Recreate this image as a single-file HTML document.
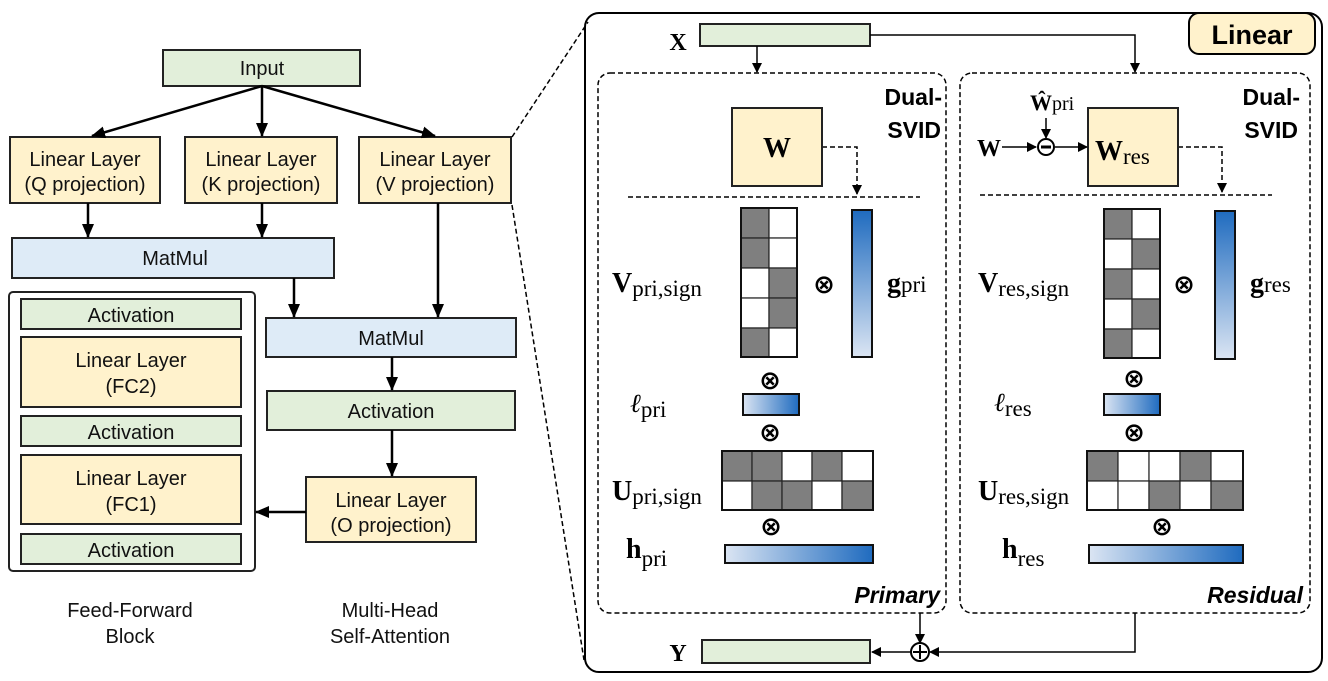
<!DOCTYPE html>
<html><head><meta charset="utf-8"><style>
html,body{margin:0;padding:0;background:#fff;}
svg{display:block;}
.s{font-family:"Liberation Sans",sans-serif;}
.m{font-family:"Liberation Serif","DejaVu Serif",serif;}
</style></head><body>
<svg width="1328" height="681" viewBox="0 0 1328 681" xmlns="http://www.w3.org/2000/svg">
<defs>
<marker id="a" markerWidth="10" markerHeight="10" refX="9" refY="5" orient="auto" markerUnits="userSpaceOnUse"><path d="M0,0 L10,5 L0,10 z" fill="#000"/></marker>
<marker id="b" markerWidth="14" markerHeight="12" refX="13" refY="6" orient="auto" markerUnits="userSpaceOnUse"><path d="M0,0 L14,6 L0,12 z" fill="#000"/></marker>
<linearGradient id="gv" x1="0" y1="0" x2="0" y2="1"><stop offset="0" stop-color="#1f6bbf"/><stop offset="1" stop-color="#dbe5f3"/></linearGradient>
<linearGradient id="gh" x1="0" y1="0" x2="1" y2="0"><stop offset="0" stop-color="#dbe5f3"/><stop offset="1" stop-color="#1f6bbf"/></linearGradient>
</defs>
<g stroke="#222" stroke-width="2">
<rect x="163" y="50" width="197" height="36" fill="#e2efda"/>
<rect x="10" y="137" width="150" height="66" fill="#fff2cc"/>
<rect x="185" y="137" width="152" height="66" fill="#fff2cc"/>
<rect x="359" y="137" width="152" height="66" fill="#fff2cc"/>
<rect x="12" y="238" width="322" height="40" fill="#deebf7"/>
<rect x="266" y="318" width="250" height="39" fill="#deebf7"/>
<rect x="267" y="391" width="248" height="39" fill="#e2efda"/>
<rect x="306" y="477" width="170" height="65" fill="#fff2cc"/>
<rect x="9" y="292" width="246" height="279" rx="4" fill="#fff"/>
<rect x="21" y="299" width="220" height="30" fill="#e2efda"/>
<rect x="21" y="337" width="220" height="70" fill="#fff2cc"/>
<rect x="21" y="416" width="220" height="30" fill="#e2efda"/>
<rect x="21" y="455" width="220" height="69" fill="#fff2cc"/>
<rect x="21" y="534" width="220" height="30" fill="#e2efda"/>
</g>
<g stroke="#000" stroke-width="2.5" fill="none">
<line x1="262" y1="86" x2="92" y2="136" marker-end="url(#b)"/>
<line x1="262" y1="86" x2="262" y2="136" marker-end="url(#b)"/>
<line x1="262" y1="86" x2="435" y2="136" marker-end="url(#b)"/>
<line x1="88" y1="203" x2="88" y2="237" marker-end="url(#b)"/>
<line x1="262" y1="203" x2="262" y2="237" marker-end="url(#b)"/>
<line x1="438" y1="203" x2="438" y2="317" marker-end="url(#b)"/>
<line x1="294" y1="278" x2="294" y2="317" marker-end="url(#b)"/>
<line x1="392" y1="357" x2="392" y2="390" marker-end="url(#b)"/>
<line x1="392" y1="430" x2="392" y2="476" marker-end="url(#b)"/>
<line x1="306" y1="512" x2="256" y2="512" marker-end="url(#b)"/>
</g>
<g class="s" font-size="20" text-anchor="middle" fill="#111">
<text x="262" y="75">Input</text>
<text x="85" y="166">Linear Layer</text><text x="85" y="191">(Q projection)</text>
<text x="261" y="166">Linear Layer</text><text x="261" y="191">(K projection)</text>
<text x="435" y="166">Linear Layer</text><text x="435" y="191">(V projection)</text>
<text x="175" y="265">MatMul</text>
<text x="391" y="345">MatMul</text>
<text x="391" y="418">Activation</text>
<text x="391" y="507">Linear Layer</text><text x="391" y="532">(O projection)</text>
<text x="131" y="322">Activation</text>
<text x="131" y="367">Linear Layer</text><text x="131" y="393">(FC2)</text>
<text x="131" y="439">Activation</text>
<text x="131" y="485">Linear Layer</text><text x="131" y="511">(FC1)</text>
<text x="131" y="557">Activation</text>
<text x="130" y="617">Feed-Forward</text><text x="130" y="643">Block</text>
<text x="390" y="617">Multi-Head</text><text x="390" y="643">Self-Attention</text>
</g>
<g stroke="#000" stroke-width="1.5" stroke-dasharray="5,3" fill="none">
<line x1="512" y1="137" x2="588" y2="22"/>
<line x1="512" y1="205" x2="584" y2="660"/>
</g>
<rect x="585" y="13" width="737" height="659" rx="14" fill="none" stroke="#000" stroke-width="2"/>
<rect x="1189" y="13" width="126" height="41" rx="10" fill="#fff2cc" stroke="#000" stroke-width="2"/>
<text x="1252" y="44" class="s" font-size="27" font-weight="bold" text-anchor="middle">Linear</text>
<text x="678" y="50" class="m" font-size="24" font-weight="bold" text-anchor="middle">X</text>
<rect x="700" y="24" width="170" height="22" fill="#e2efda" stroke="#222" stroke-width="2"/>
<g stroke="#000" stroke-width="1.5" fill="none">
<line x1="757" y1="46" x2="757" y2="72" marker-end="url(#a)"/>
<polyline points="870,35 1135,35 1135,72" marker-end="url(#a)"/>
</g>
<g stroke="#000" stroke-width="1.5" stroke-dasharray="5,3" fill="none">
<rect x="598" y="73" width="348" height="540" rx="12"/>
<rect x="960" y="73" width="350" height="540" rx="12"/>
<line x1="628" y1="197" x2="920" y2="197"/>
<line x1="980" y1="195" x2="1272" y2="195"/>
<polyline points="822,147 857,147 857,194" marker-end="url(#a)"/>
<polyline points="1178,147 1222,147 1222,192" marker-end="url(#a)"/>
</g>
<g class="s" font-size="23" font-weight="bold" text-anchor="end">
<text x="942" y="105">Dual-</text><text x="941" y="138">SVID</text>
<text x="1300" y="105">Dual-</text><text x="1298" y="138">SVID</text>
<text x="940" y="603" font-style="italic">Primary</text>
<text x="1303" y="603" font-style="italic">Residual</text>
</g>
<rect x="732" y="108" width="90" height="78" fill="#fff2cc" stroke="#222" stroke-width="2"/>
<text x="777" y="157" class="m" font-size="28" font-weight="bold" text-anchor="middle">W</text>
<g stroke="#222" stroke-width="1.2">
<rect x="741" y="208" width="28" height="30" fill="#7f7f7f"/><rect x="769" y="208" width="28" height="30" fill="#fff"/>
<rect x="741" y="238" width="28" height="30" fill="#7f7f7f"/><rect x="769" y="238" width="28" height="30" fill="#fff"/>
<rect x="741" y="268" width="28" height="30" fill="#fff"/><rect x="769" y="268" width="28" height="30" fill="#7f7f7f"/>
<rect x="741" y="298" width="28" height="30" fill="#fff"/><rect x="769" y="298" width="28" height="30" fill="#7f7f7f"/>
<rect x="741" y="328" width="28" height="29" fill="#7f7f7f"/><rect x="769" y="328" width="28" height="29" fill="#fff"/>
<rect x="722" y="451" width="30" height="30" fill="#7f7f7f"/><rect x="752" y="451" width="30" height="30" fill="#7f7f7f"/><rect x="782" y="451" width="30" height="30" fill="#fff"/><rect x="812" y="451" width="30" height="30" fill="#7f7f7f"/><rect x="842" y="451" width="31" height="30" fill="#fff"/>
<rect x="722" y="481" width="30" height="29" fill="#fff"/><rect x="752" y="481" width="30" height="29" fill="#7f7f7f"/><rect x="782" y="481" width="30" height="29" fill="#7f7f7f"/><rect x="812" y="481" width="30" height="29" fill="#fff"/><rect x="842" y="481" width="31" height="29" fill="#7f7f7f"/>
</g>
<g fill="none" stroke="#111" stroke-width="2">
<rect x="741" y="208" width="56" height="149"/><rect x="722" y="451" width="151" height="59"/>
<rect x="852" y="210" width="20" height="147" fill="url(#gv)"/>
<rect x="743" y="394" width="56" height="21" fill="url(#gh)"/>
<rect x="725" y="545" width="148" height="18" fill="url(#gh)"/>
</g>
<rect x="1088" y="108" width="90" height="78" fill="#fff2cc" stroke="#222" stroke-width="2"/>
<g stroke="#222" stroke-width="1.2">
<rect x="1104" y="209" width="28" height="30" fill="#7f7f7f"/><rect x="1132" y="209" width="28" height="30" fill="#fff"/>
<rect x="1104" y="239" width="28" height="30" fill="#fff"/><rect x="1132" y="239" width="28" height="30" fill="#7f7f7f"/>
<rect x="1104" y="269" width="28" height="30" fill="#7f7f7f"/><rect x="1132" y="269" width="28" height="30" fill="#fff"/>
<rect x="1104" y="299" width="28" height="30" fill="#fff"/><rect x="1132" y="299" width="28" height="30" fill="#7f7f7f"/>
<rect x="1104" y="329" width="28" height="29" fill="#7f7f7f"/><rect x="1132" y="329" width="28" height="29" fill="#fff"/>
<rect x="1087" y="451" width="31" height="30" fill="#7f7f7f"/><rect x="1118" y="451" width="31" height="30" fill="#fff"/><rect x="1149" y="451" width="31" height="30" fill="#fff"/><rect x="1180" y="451" width="31" height="30" fill="#7f7f7f"/><rect x="1211" y="451" width="32" height="30" fill="#fff"/>
<rect x="1087" y="481" width="31" height="29" fill="#fff"/><rect x="1118" y="481" width="31" height="29" fill="#fff"/><rect x="1149" y="481" width="31" height="29" fill="#7f7f7f"/><rect x="1180" y="481" width="31" height="29" fill="#fff"/><rect x="1211" y="481" width="32" height="29" fill="#7f7f7f"/>
</g>
<g fill="none" stroke="#111" stroke-width="2">
<rect x="1104" y="209" width="56" height="149"/><rect x="1087" y="451" width="156" height="59"/>
<rect x="1215" y="211" width="20" height="148" fill="url(#gv)"/>
<rect x="1104" y="394" width="56" height="21" fill="url(#gh)"/>
<rect x="1089" y="545" width="154" height="18" fill="url(#gh)"/>
</g>
<g stroke="#000" stroke-width="1.5" fill="none">
<line x1="1002" y1="147" x2="1036" y2="147" marker-end="url(#a)"/>
<line x1="1055" y1="147" x2="1087" y2="147" marker-end="url(#a)"/>
<line x1="1046" y1="118" x2="1046" y2="138" marker-end="url(#a)"/>
<circle cx="1046" cy="147" r="8" stroke-width="2"/>
<line x1="1041" y1="147" x2="1051" y2="147" stroke-width="3"/>
<line x1="920" y1="613" x2="920" y2="643" marker-end="url(#a)"/>
<polyline points="1135,613 1135,652 930,652" marker-end="url(#a)"/>
<line x1="911" y1="652" x2="872" y2="652" marker-end="url(#a)"/>
<circle cx="920" cy="652" r="9" stroke-width="2"/>
<line x1="913" y1="652" x2="927" y2="652" stroke-width="2"/><line x1="920" y1="645" x2="920" y2="659" stroke-width="2"/>
</g>
<rect x="702" y="640" width="168" height="23" fill="#e2efda" stroke="#222" stroke-width="2"/>
<text x="678" y="661" class="m" font-size="24" font-weight="bold" text-anchor="middle">Y</text>
<g class="m" fill="#000">
<text x="612" y="292"><tspan font-weight="bold" font-size="28">V</tspan><tspan font-size="23" dy="4">pri,sign</tspan></text>
<text x="887" y="292"><tspan font-weight="bold" font-size="28">g</tspan><tspan font-size="23" dy="0">pri</tspan></text>
<text x="630" y="412" font-style="italic" font-size="26">ℓ<tspan font-style="normal" font-size="23" dy="5">pri</tspan></text>
<text x="612" y="500"><tspan font-weight="bold" font-size="28">U</tspan><tspan font-size="23" dy="4">pri,sign</tspan></text>
<text x="626" y="558"><tspan font-weight="bold" font-size="28">h</tspan><tspan font-size="23" dy="8">pri</tspan></text>
<text x="978" y="292"><tspan font-weight="bold" font-size="28">V</tspan><tspan font-size="23" dy="4">res,sign</tspan></text>
<text x="1250" y="292"><tspan font-weight="bold" font-size="28">g</tspan><tspan font-size="23" dy="0">res</tspan></text>
<text x="994" y="411" font-style="italic" font-size="26">ℓ<tspan font-style="normal" font-size="23" dy="5">res</tspan></text>
<text x="978" y="500"><tspan font-weight="bold" font-size="28">U</tspan><tspan font-size="23" dy="4">res,sign</tspan></text>
<text x="1002" y="558"><tspan font-weight="bold" font-size="28">h</tspan><tspan font-size="23" dy="8">res</tspan></text>
<text x="1095" y="160"><tspan font-weight="bold" font-size="28">W</tspan><tspan font-size="23" dy="4">res</tspan></text>
<text x="977" y="156" font-weight="bold" font-size="24">W</text>
<text x="1030" y="110"><tspan font-weight="bold" font-size="22">Ŵ</tspan><tspan font-size="20" dy="0">pri</tspan></text>
</g>
<g font-family="DejaVu Sans,sans-serif" font-size="26" font-weight="bold" text-anchor="middle">
<text x="824" y="293">⊗</text><text x="770" y="389">⊗</text><text x="770" y="441">⊗</text><text x="771" y="535">⊗</text>
<text x="1184" y="293">⊗</text><text x="1134" y="387">⊗</text><text x="1134" y="441">⊗</text><text x="1162" y="535">⊗</text>
</g>
</svg>
</body></html>
